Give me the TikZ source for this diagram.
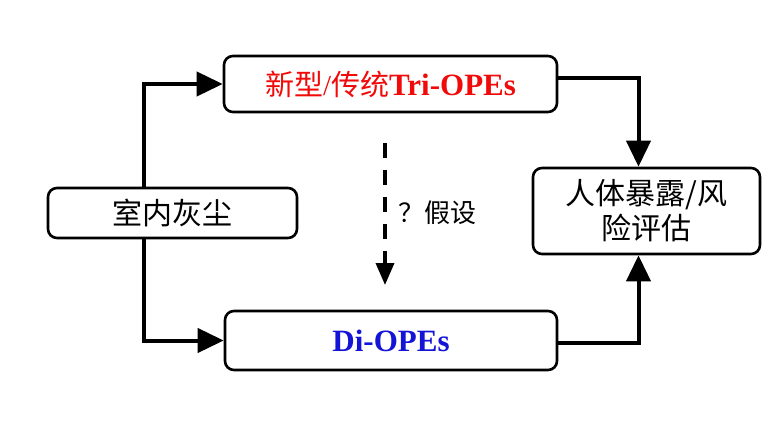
\documentclass[tikz,border=0pt]{standalone}
\usepackage{xcolor}
\usepackage{fontspec}
\setmainfont{Liberation Serif}
\newfontfamily\cjk{Noto Sans CJK SC}
\usetikzlibrary{arrows.meta}
\definecolor{trired}{RGB}{240,10,10}
\definecolor{diblue}{RGB}{20,20,215}

\begin{document}
\begin{tikzpicture}[x=1pt,y=-1pt,
    box/.style={draw,line width=2.6pt,rounded corners=9pt,inner sep=0pt},
    flow/.style={line width=4pt,-{Triangle[length=26pt,width=24pt]}},
    guess/.style={line width=3.5pt,dash pattern=on 15pt off 12pt,-{Triangle[length=22pt,width=18pt]}}]
            \useasboundingbox (0,0) rectangle (782,423);
            %绘制四个方框
            \node[box,minimum width=249pt,minimum height=50pt] (dust) at (172.5,213)
                {\cjk\fontsize{30}{34}\selectfont 室内灰尘};
            \node[box,minimum width=333pt,minimum height=56pt,text=trired] (tri) at (390.5,84)
                {\fontsize{29}{34}\selectfont{\cjk 新型}/{\cjk 传统}\bfseries\fontsize{31}{34}\selectfont Tri-OPEs};
            \node[box,minimum width=332pt,minimum height=59pt,text=diblue] (di) at (391,340.5)
                {\fontsize{31}{34}\selectfont\bfseries Di-OPEs};
            \node[box,minimum width=227pt,minimum height=86pt,align=center,
                font=\cjk\fontsize{30}{35}\selectfont] (risk) at (646.5,211)
                {人体暴露/风\\险评估};
            %绘制实线箭头
            \draw[flow] ([xshift=-29pt]dust.north) |- (tri.west);
            \draw[flow] ([xshift=-29pt]dust.south) |- (di.west);
            \draw[flow] ([yshift=6pt]tri.east) -| ([xshift=-8pt]risk.north);
            \draw[flow] ([yshift=-2.5pt]di.east) -| ([xshift=-8pt]risk.south);
            %绘制虚线箭头及其标注
            \coordinate (up) at (385,143);
            \coordinate (down) at (385,285);
            \draw[guess] (up) -- (down);
            \node[anchor=west,inner sep=0pt] (ask) at (398,213)
                {\cjk\fontsize{26}{30}\selectfont ？假设};
        \end{tikzpicture}
\end{document}
